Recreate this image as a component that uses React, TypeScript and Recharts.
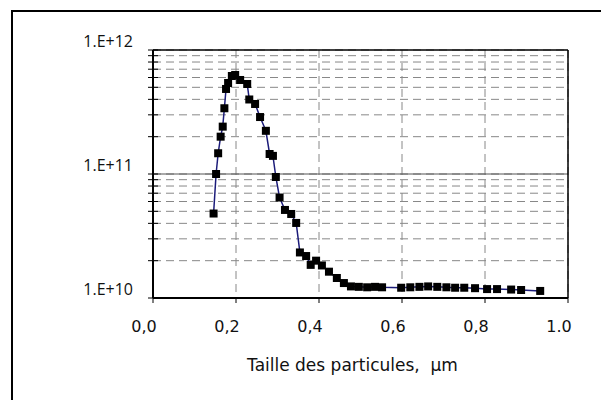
import React from "react";
import {
  CartesianGrid,
  Label,
  Line,
  LineChart,
  ReferenceLine,
  XAxis,
  YAxis,
} from "recharts";

// particle size (µm) and concentration
const sizes = [
  0.146, 0.152, 0.157, 0.163, 0.168, 0.172, 0.176, 0.181, 0.19, 0.198, 0.21,
  0.227, 0.232, 0.246, 0.258, 0.272, 0.281, 0.289, 0.296, 0.305, 0.318, 0.333,
  0.345, 0.354, 0.369, 0.38, 0.393, 0.407, 0.424, 0.443, 0.46, 0.477, 0.496,
  0.516, 0.535, 0.552, 0.598, 0.62, 0.642, 0.663, 0.685, 0.707, 0.728, 0.75,
  0.776, 0.805, 0.829, 0.863, 0.887, 0.933,
];
const counts = [
  4.8e10, 1.0e11, 1.47e11, 2.0e11, 2.41e11, 3.39e11, 4.85e11, 5.42e11, 6.17e11,
  6.29e11, 5.73e11, 5.32e11, 3.99e11, 3.67e11, 2.88e11, 2.23e11, 1.45e11,
  1.4e11, 9.46e10, 6.46e10, 5.13e10, 4.76e10, 4.03e10, 2.33e10, 2.18e10,
  1.85e10, 2.0e10, 1.83e10, 1.63e10, 1.45e10, 1.32e10, 1.24e10, 1.23e10,
  1.22e10, 1.23e10, 1.22e10, 1.21e10, 1.22e10, 1.23e10, 1.24e10, 1.23e10,
  1.22e10, 1.21e10, 1.21e10, 1.2e10, 1.18e10, 1.18e10, 1.17e10, 1.16e10,
  1.14e10,
];

const xTicks = [0, 0.2, 0.4, 0.6, 0.8, 1.0];
const xTickLabels = ["0,0", "0,2", "0,4", "0,6", "0,8", "1.0"];
const yMajor = [1e10, 1e11, 1e12];
const yMajorLabels = ["1.E+10", "1.E+11", "1.E+12"];
const yTicks = [
  1e10, 2e10, 3e10, 4e10, 5e10, 6e10, 7e10, 8e10, 9e10,
  1e11, 2e11, 3e11, 4e11, 5e11, 6e11, 7e11, 8e11, 9e11, 1e12,
];
const xTitle = "Taille des particules,\u00a0 µm";

const data = sizes.map((s, i) => ({ size: s, count: counts[i] }));

const FONT = "'Open Sans', sans-serif";
const WIDE = "'DejaVu Sans', sans-serif";

function YTick(props: any) {
  const { x, y, payload } = props;
  const idx = yMajor.indexOf(payload.value);
  return (
    <g>
      <line x1={x - 5} x2={x + 5} y1={y} y2={y} stroke="#000" strokeWidth={1} />
      {idx >= 0 && (
        <text
          x={x - 20}
          y={y - 9}
          textAnchor="end"
          dominantBaseline="central"
          fontSize={16}
          fontWeight={500}
          fontFamily={FONT}
          fill="#111"
        >
          {yMajorLabels[idx]}
        </text>
      )}
    </g>
  );
}

function XTick(props: any) {
  const { x, y, payload } = props;
  return (
    <text
      x={x - 9}
      y={y}
      dy={12}
      textAnchor="middle"
      fontSize={16}
      fontFamily={WIDE}
      fill="#111"
    >
      {xTickLabels[xTicks.indexOf(payload.value)] ?? ""}
    </text>
  );
}

function SquareDot(props: any) {
  const { cx, cy, index } = props;
  if (cx == null || cy == null) return <g key={index} />;
  return <rect key={index} x={cx - 4} y={cy - 4} width={8} height={8} fill="#000" />;
}

export default function App() {
  return (
    <div
      style={{
        position: "fixed",
        left: 0,
        top: 0,
        width: 601,
        height: 400,
        overflow: "hidden",
        background: "#fff",
      }}
    >
      <div
        style={{
          position: "absolute",
          left: 11,
          top: 10,
          width: 700,
          height: 500,
          border: "2px solid #000",
        }}
      />
      <div style={{ position: "absolute", left: 0, top: 0 }}>
        <LineChart
          width={601}
          height={400}
          data={data}
          margin={{ top: 50, right: 33, bottom: 22, left: 0 }}
        >
          <CartesianGrid
            stroke="#888"
            strokeDasharray="8 5"
            horizontalValues={yTicks}
            verticalValues={xTicks}
          />
          <XAxis
            type="number"
            dataKey="size"
            domain={[0, 1]}
            ticks={xTicks}
            axisLine={{ stroke: "#000", strokeWidth: 2 }}
            tickLine={{ stroke: "#000" }}
            tickSize={5}
            tickMargin={17}
            tick={<XTick />}
            height={80}
          >
            <Label
              value={xTitle}
              position="insideBottom"
              offset={7}
              dx={-8}
              fontSize={17}
              fontFamily={WIDE}
              fill="#111"
            />
          </XAxis>
          <YAxis
            type="number"
            dataKey="count"
            scale="log"
            domain={[1e10, 1e12]}
            allowDataOverflow
            ticks={yTicks}
            interval={0}
            axisLine={{ stroke: "#000", strokeWidth: 2 }}
            tickLine={false}
            tickSize={0}
            tickMargin={0}
            tick={<YTick />}
            width={153}
          />
          <ReferenceLine y={1e11} stroke="#555" strokeWidth={1} />
          <ReferenceLine y={1e12} stroke="#000" strokeWidth={1.5} />
          <ReferenceLine x={1} stroke="#000" strokeWidth={1.5} />
          <Line
            type="linear"
            dataKey="count"
            stroke="#1c1c7a"
            strokeWidth={1.5}
            dot={<SquareDot />}
            isAnimationActive={false}
          />
        </LineChart>
      </div>
    </div>
  );
}
